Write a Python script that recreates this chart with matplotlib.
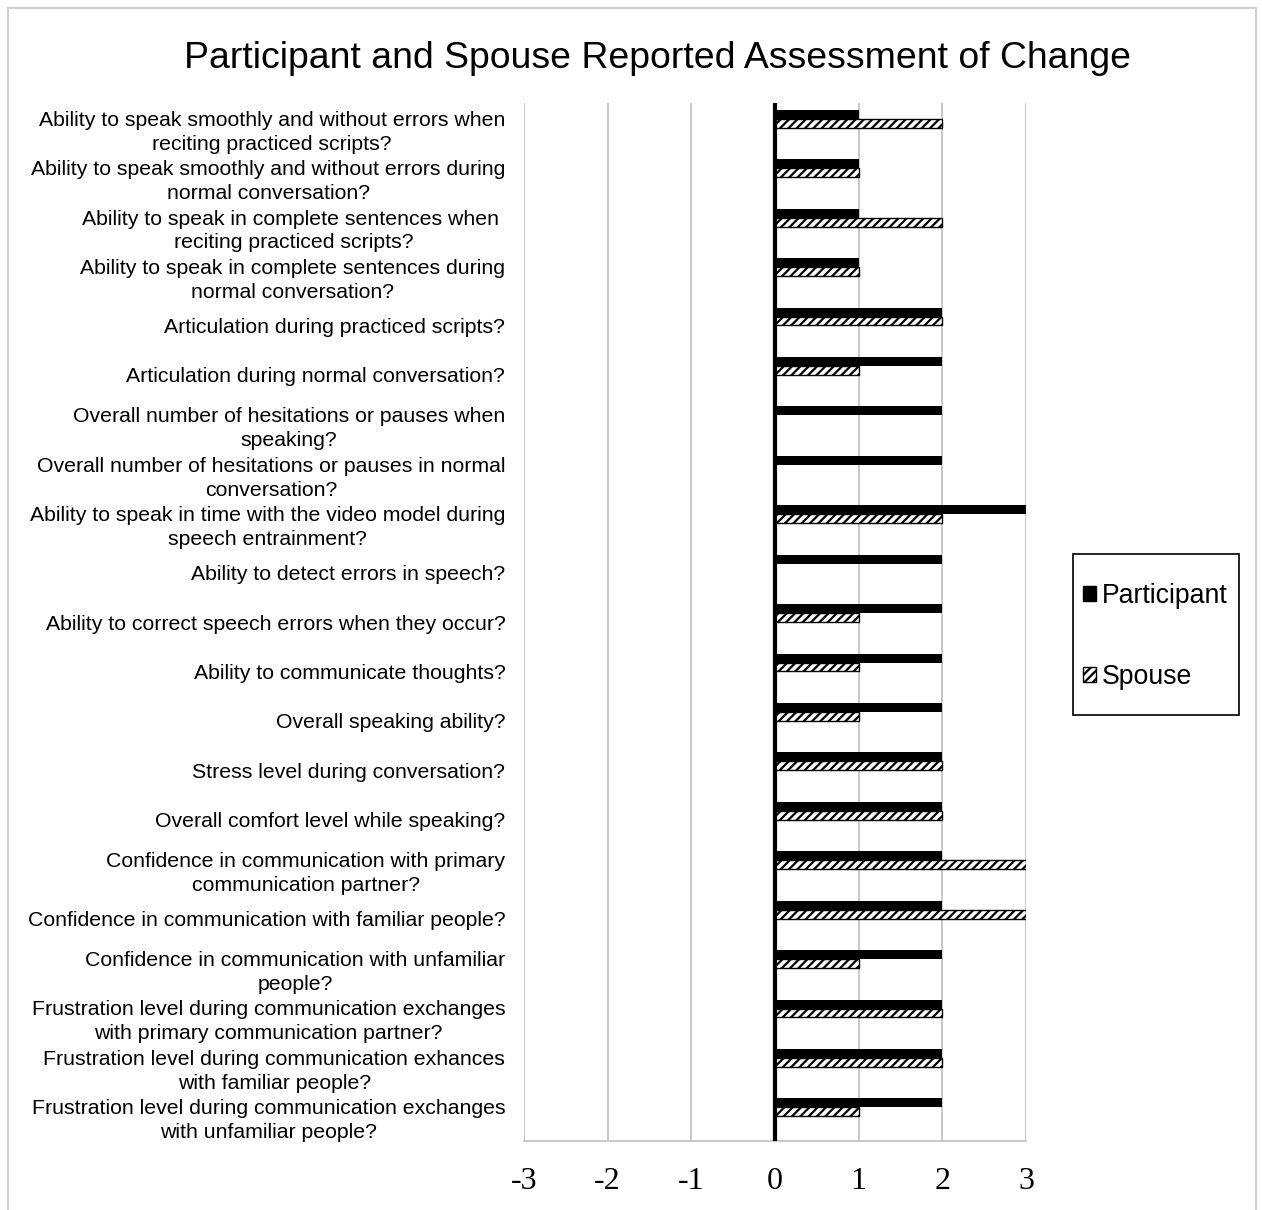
import matplotlib
matplotlib.use("Agg")
import matplotlib.pyplot as plt
from matplotlib.patches import Rectangle, Patch
import numpy as np

categories = [
    "Ability to speak smoothly and without errors when\nreciting practiced scripts?",
    "Ability to speak smoothly and without errors during\nnormal conversation?",
    "Ability to speak in complete sentences when \nreciting practiced scripts?",
    "Ability to speak in complete sentences during\nnormal conversation?",
    "Articulation during practiced scripts?",
    "Articulation during normal conversation?",
    "Overall number of hesitations or pauses when\nspeaking?",
    "Overall number of hesitations or pauses in normal\nconversation?",
    "Ability to speak in time with the video model during\nspeech entrainment?",
    "Ability to detect errors in speech?",
    "Ability to correct speech errors when they occur?",
    "Ability to communicate thoughts?",
    "Overall speaking ability?",
    "Stress level during conversation?",
    "Overall comfort level while speaking?",
    "Confidence in communication with primary\ncommunication partner?",
    "Confidence in communication with familiar people?",
    "Confidence in communication with unfamiliar\npeople?",
    "Frustration level during communication exchanges\nwith primary communication partner?",
    "Frustration level during communication exhances\nwith familiar people?",
    "Frustration level during communication exchanges\nwith unfamiliar people?",
]
participant = [1, 1, 1, 1, 2, 2, 2, 2, 3, 2, 2, 2, 2, 2, 2, 2, 2, 2, 2, 2, 2]
spouse = [2, 1, 2, 1, 2, 1, 0, 0, 2, 0, 1, 1, 1, 2, 2, 3, 3, 1, 2, 2, 1]
xticks = [-3, -2, -1, 0, 1, 2, 3]
title = "Participant and Spouse Reported Assessment of Change"

plt.rcParams['hatch.linewidth'] = 1.6
fig = plt.figure(figsize=(12.62, 12.10), dpi=100)
ax = fig.add_axes([524/1262, 1-1141/1210, (1026-524)/1262, (1141-103)/1210])

y = np.arange(len(categories))
h = 0.18
ax.barh(y - 0.27, participant, height=h, color='black', edgecolor='black', linewidth=0, zorder=3)
ax.barh(y - 0.09, spouse, height=h, color='white', edgecolor='black', hatch='////', linewidth=1.0, zorder=3)

ax.set_ylim(len(categories) - 0.5, -0.5)
ax.set_xlim(-3, 3)
ax.set_yticks(y)
ax.set_yticklabels(categories, fontsize=15.3, family='Liberation Sans', ha='right',
                   multialignment='center', linespacing=1.32)
ax.set_xticks(xticks)
ax.set_xticklabels([str(v) for v in xticks], fontsize=23, family='Liberation Serif')
ax.tick_params(axis='y', length=0, pad=13.5)
ax.tick_params(axis='x', length=0, pad=19)
ax.xaxis.grid(True, color='#BFBFBF', linewidth=1.2, zorder=0)
ax.set_axisbelow(True)
for s in ['top', 'right', 'left']:
    ax.spines[s].set_visible(False)
ax.spines['bottom'].set_color('#BFBFBF')
ax.spines['bottom'].set_linewidth(1.2)
ax.axvline(0, color='black', linewidth=3, zorder=4)

fig.text(657/1262, 1-58/1210, title, ha='center', va='center', fontsize=26.9, family='Liberation Sans')

handles = [Patch(facecolor='black', edgecolor='black', label='Participant'),
           Patch(facecolor='white', edgecolor='black', hatch='////', label='Spouse')]
leg = fig.legend(handles=handles, loc='upper left', bbox_to_anchor=(1083/1262, 1-583/1210),
                 prop={'family': 'Liberation Sans', 'size': 19.2}, frameon=False,
                 handlelength=0.5, handleheight=0.5, handletextpad=0.22,
                 labelspacing=2.07, borderpad=0, borderaxespad=0)

fig.patches.append(Rectangle((1073/1262, 1-715/1210), (1239-1073)/1262, (715-554)/1210,
                             transform=fig.transFigure, fill=False, edgecolor='black', linewidth=1.2))

fig.patches.append(Rectangle((8/1262, -0.01), (1256-8)/1262, 1-8/1210+0.01, transform=fig.transFigure,
                             fill=False, edgecolor='#D0D0D0', linewidth=1.5))

fig.savefig('out.png', dpi=100, facecolor='white')
